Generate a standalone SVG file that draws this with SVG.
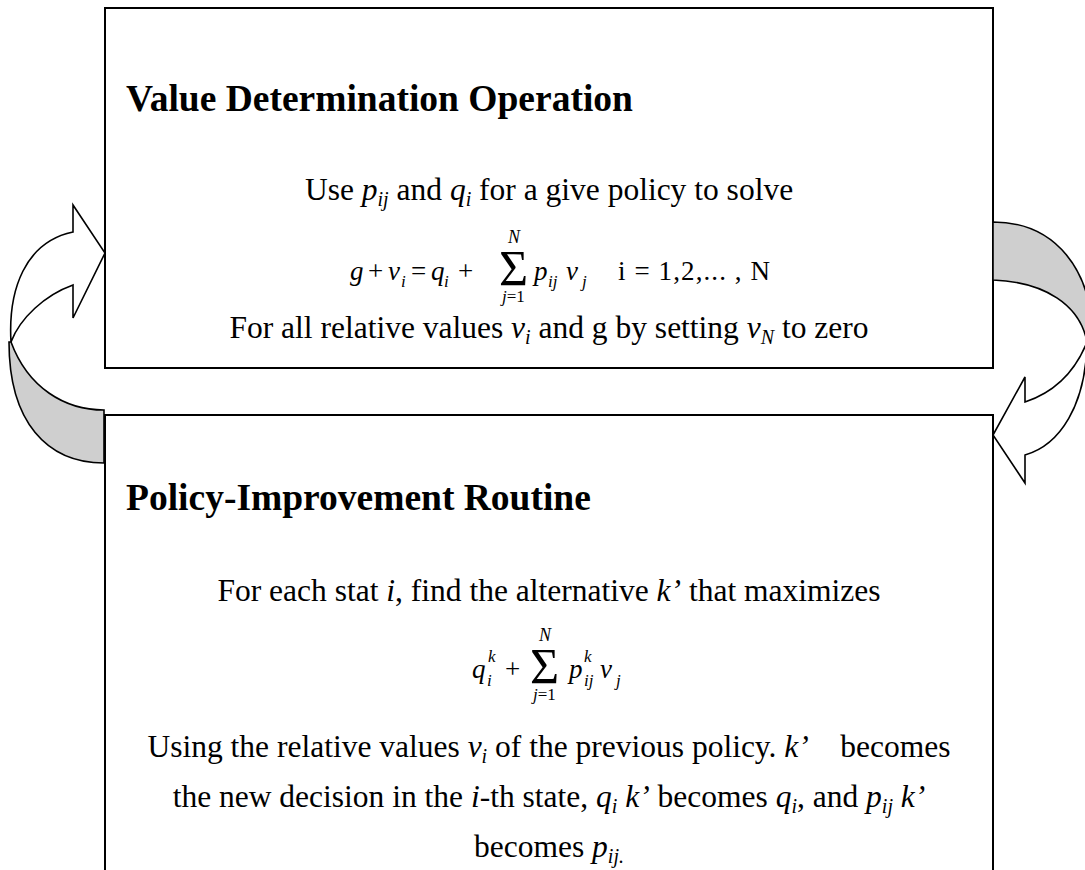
<svg xmlns="http://www.w3.org/2000/svg" width="1085" height="870" viewBox="0 0 1085 870">
<style>
.t{font-family:"Liberation Serif","Times New Roman",serif;font-size:31.5px;fill:#000}
.ttl{font-family:"Liberation Serif","Times New Roman",serif;font-size:37.5px;font-weight:bold;fill:#000}
.eq{font-family:"Liberation Serif","Times New Roman",serif;font-size:27px;fill:#000}
.i{font-style:italic}
.s{font-size:20px}
.es{font-size:17px}
.lim{font-size:18px}
.sig{font-size:50px}
.box{fill:#fff;stroke:#000;stroke-width:2}
.front{fill:#fff;stroke:#000;stroke-width:1.6;stroke-linejoin:miter}
.back{fill:#cfcfcf;stroke:#000;stroke-width:1.6}
</style>
<rect width="1085" height="870" fill="#fff"/>
<g id="node-value-determination">
<rect class="box" x="105" y="8" width="888" height="360"/>
<text class="ttl" x="126" y="111">Value Determination Operation</text>
<text class="t" x="549" y="200" text-anchor="middle">Use <tspan class="i">p</tspan><tspan class="i s" dy="6">ij</tspan><tspan dy="-6"> and </tspan><tspan class="i">q</tspan><tspan class="i s" dy="6">i</tspan><tspan dy="-6"> for a give policy to solve</tspan></text>
<text class="eq">
<tspan class="i" x="350" y="280">g</tspan>
<tspan x="368" y="280">+</tspan>
<tspan class="i" x="388" y="280">v</tspan>
<tspan class="i es" x="401" y="287">i</tspan>
<tspan x="411" y="280">=</tspan>
<tspan class="i" x="431" y="280">q</tspan>
<tspan class="i es" x="444" y="287">i</tspan>
<tspan x="458" y="280">+</tspan>
<tspan class="sig" x="499" y="285">Σ</tspan>
<tspan class="i lim" x="508" y="243">N</tspan>
<tspan class="i es" x="502" y="302">j</tspan><tspan class="es">=1</tspan>
<tspan class="i" x="534" y="280">p</tspan>
<tspan class="i es" x="548" y="287">ij</tspan>
<tspan class="i" x="566" y="280">v</tspan>
<tspan class="i es" x="582" y="287">j</tspan>
</text>
<text class="eq" x="618" y="280" textLength="152" lengthAdjust="spacing">i = 1,2,... , N</text>
<text class="t" x="549" y="338" text-anchor="middle">For all relative values <tspan class="i">v</tspan><tspan class="i s" dy="6">i</tspan><tspan dy="-6"> and g by setting </tspan><tspan class="i">v</tspan><tspan class="i s" dy="6">N</tspan><tspan dy="-6"> to zero</tspan></text>
</g>
<g id="node-policy-improvement">
<rect class="box" x="105" y="415" width="888" height="470"/>
<text class="ttl" x="126" y="510">Policy-Improvement Routine</text>
<text class="t" x="549" y="601" text-anchor="middle">For each stat <tspan class="i">i</tspan>, find the alternative <tspan class="i">k’</tspan> that maximizes</text>
<text class="eq">
<tspan class="i" x="472" y="678">q</tspan>
<tspan class="i es" x="488" y="662">k</tspan>
<tspan class="i es" x="487" y="686">i</tspan>
<tspan x="505" y="678">+</tspan>
<tspan class="sig" x="530" y="683">Σ</tspan>
<tspan class="i lim" x="539" y="641">N</tspan>
<tspan class="i es" x="533" y="700">j</tspan><tspan class="es">=1</tspan>
<tspan class="i" x="569" y="678">p</tspan>
<tspan class="i es" x="584" y="662">k</tspan>
<tspan class="i es" x="584" y="686">ij</tspan>
<tspan class="i" x="600" y="678">v</tspan>
<tspan class="i es" x="616" y="686">j</tspan>
</text>
<text class="t" x="549" y="757" text-anchor="middle" style="white-space:pre">Using the relative values <tspan class="i">v</tspan><tspan class="i s" dy="6">i</tspan><tspan dy="-6"> of the previous policy. </tspan><tspan class="i">k’</tspan><tspan>    becomes</tspan></text>
<text class="t" x="549" y="807" text-anchor="middle">the new decision in the <tspan class="i">i</tspan>-th state, <tspan class="i">q</tspan><tspan class="i s" dy="6">i</tspan><tspan dy="-6"> </tspan><tspan class="i">k’</tspan> becomes <tspan class="i">q</tspan><tspan class="i s" dy="6">i</tspan><tspan dy="-6">, and </tspan><tspan class="i">p</tspan><tspan class="i s" dy="6">ij</tspan><tspan dy="-6"> </tspan><tspan class="i">k’</tspan></text>
<text class="t" x="549" y="857" text-anchor="middle">becomes <tspan class="i">p</tspan><tspan class="i s" dy="6">ij.</tspan></text>
</g>
<g id="connectors">
<g id="arrow-left">
<path class="back" d="M11,342 C28,388 65,410 104,410 L104,463 C47,463 9,422 9,342 Z"/>
<path class="front" d="M73,232 L73,205 L105,253 L73,318 L73,285 C45,295 20,318 11,342 C8,290 25,242 73,232 Z"/>
</g>
<g id="arrow-right">
<path class="back" d="M1087,342 C1080,305 1045,282 993,280 L993,222 C1055,222 1094,270 1092,342 Z"/>
<path class="front" d="M1025,402 L1025,377 L993,435 L1025,483 L1025,455 C1060,445 1086,405 1087,342 C1075,372 1055,392 1025,402 Z"/>
</g>
</g>
</svg>
